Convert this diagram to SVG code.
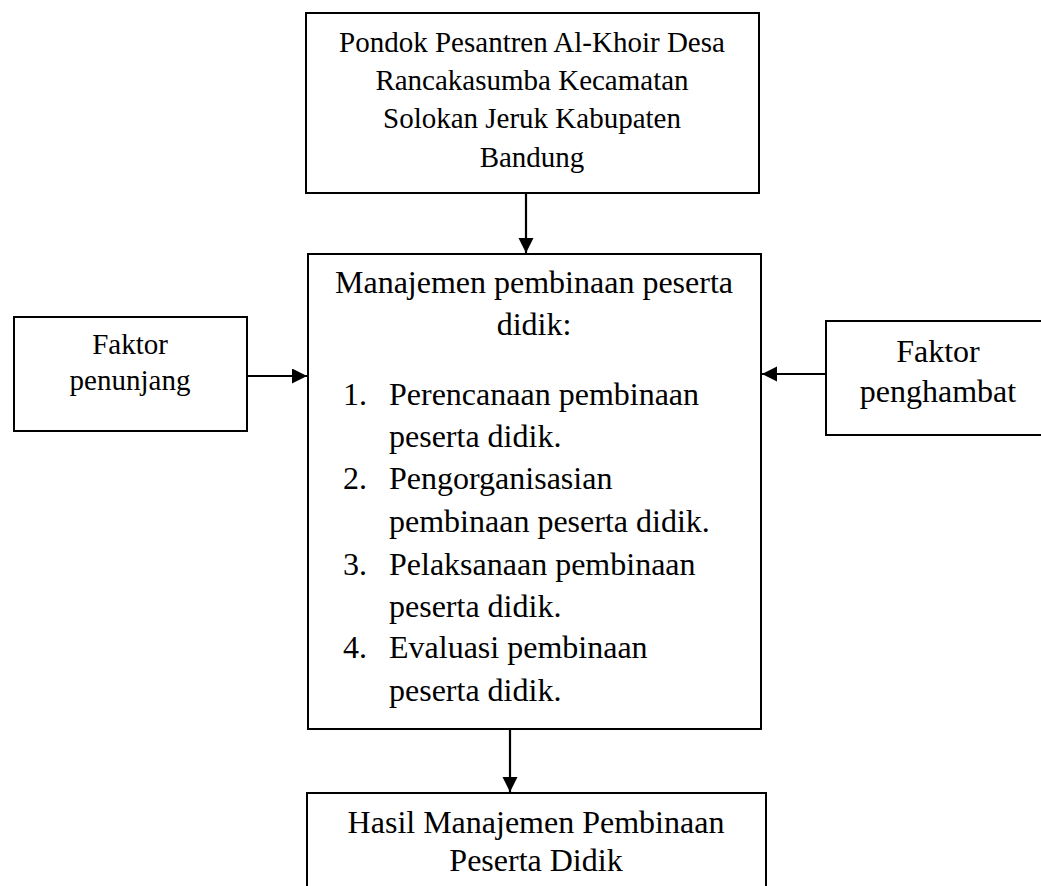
<svg xmlns="http://www.w3.org/2000/svg" width="1041" height="886" viewBox="0 0 1041 886">
<style>
.box{fill:#fff;stroke:#000;stroke-width:2}
.t{font-family:"Liberation Serif","Times New Roman",serif;fill:#000}
.c{text-anchor:middle}
.conn{stroke:#000;stroke-width:2.2;fill:none}
</style>
<defs>
<marker id="ah" markerUnits="userSpaceOnUse" markerWidth="16" markerHeight="16" refX="15" refY="7.5" orient="auto">
<path d="M0,0 L15,7.5 L0,15 Z" fill="#000"/>
</marker>
</defs>
<rect width="1041" height="886" fill="#fff"/>
<g id="node-top">
<rect class="box" x="306" y="13" width="453" height="180"/>
<text class="t c" font-size="29" x="532" y="52">Pondok Pesantren Al-Khoir Desa</text>
<text class="t c" font-size="29" x="532" y="90">Rancakasumba Kecamatan</text>
<text class="t c" font-size="29" x="532" y="128">Solokan Jeruk Kabupaten</text>
<text class="t c" font-size="29" x="532" y="167">Bandung</text>
</g>
<g id="node-main">
<rect class="box" x="308" y="254" width="453" height="475"/>
<text class="t c" font-size="32" x="534" y="293">Manajemen pembinaan peserta</text>
<text class="t c" font-size="32" x="534" y="335">didik:</text>
<g class="t" font-size="32">
<text x="343" y="405">1.</text><text x="389" y="405">Perencanaan pembinaan</text>
<text x="389" y="447">peserta didik.</text>
<text x="343" y="489">2.</text><text x="389" y="489">Pengorganisasian</text>
<text x="389" y="532">pembinaan peserta didik.</text>
<text x="343" y="575">3.</text><text x="389" y="575">Pelaksanaan pembinaan</text>
<text x="389" y="617">peserta didik.</text>
<text x="343" y="658">4.</text><text x="389" y="658">Evaluasi pembinaan</text>
<text x="389" y="701">peserta didik.</text>
</g>
</g>
<g id="node-left">
<rect class="box" x="14" y="317" width="233" height="114"/>
<text class="t c" font-size="29" x="130" y="354">Faktor</text>
<text class="t c" font-size="29" x="130" y="390">penunjang</text>
</g>
<g id="node-right">
<rect class="box" x="826" y="321" width="226" height="114"/>
<text class="t c" font-size="32" x="938" y="362">Faktor</text>
<text class="t c" font-size="32" x="938" y="402">penghambat</text>
</g>
<g id="node-bottom">
<rect class="box" x="307" y="793" width="459" height="110"/>
<text class="t c" font-size="32" x="536" y="833">Hasil Manajemen Pembinaan</text>
<text class="t c" font-size="32" x="536" y="871">Peserta Didik</text>
</g>
<g id="connectors">
<line class="conn" x1="526" y1="193" x2="526" y2="253" marker-end="url(#ah)"/>
<line class="conn" x1="247" y1="376" x2="307" y2="376" marker-end="url(#ah)"/>
<line class="conn" x1="826" y1="374" x2="762" y2="374" marker-end="url(#ah)"/>
<line class="conn" x1="510" y1="729" x2="510" y2="792" marker-end="url(#ah)"/>
</g>
</svg>
